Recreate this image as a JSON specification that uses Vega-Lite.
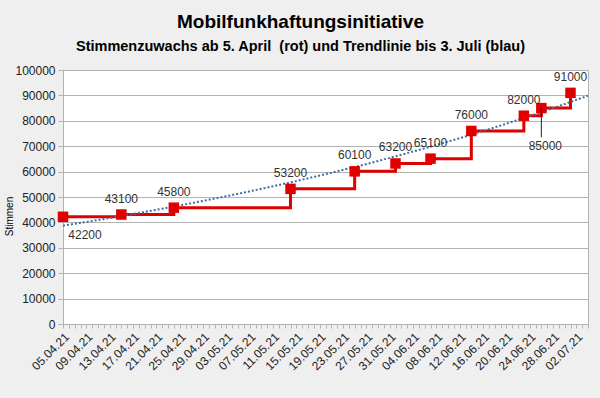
{
  "$schema": "https://vega.github.io/schema/vega-lite/v6.json",
  "width": 525,
  "height": 254,
  "autosize": "none",
  "padding": {"left": 63, "top": 70, "right": 12, "bottom": 74},
  "background": "#efefef",
  "title": {
    "text": "Mobilfunkhaftungsinitiative",
    "subtitle": "Stimmenzuwachs ab 5. April\u00a0 (rot) und Trendlinie bis 3. Juli (blau)",
    "anchor": "middle",
    "dx": -25,
    "offset": 11,
    "font": "Liberation Sans",
    "fontSize": 19,
    "fontWeight": "bold",
    "color": "#000000",
    "subtitleFont": "Liberation Sans",
    "subtitleFontSize": 14.5,
    "subtitleFontWeight": "bold",
    "subtitleColor": "#000000",
    "subtitlePadding": 8
  },
  "config": {
    "view": {"fill": "#ffffff", "stroke": "#b3b3b3"},
    "font": "Liberation Sans"
  },
  "data": {
    "values": [
      {"datum": "2021-04-05", "stimmen": 42200},
      {"datum": "2021-04-15", "stimmen": 43100},
      {"datum": "2021-04-24", "stimmen": 45800},
      {"datum": "2021-05-14", "stimmen": 53200},
      {"datum": "2021-05-25", "stimmen": 60100},
      {"datum": "2021-06-01", "stimmen": 63200},
      {"datum": "2021-06-07", "stimmen": 65100},
      {"datum": "2021-06-14", "stimmen": 76000},
      {"datum": "2021-06-23", "stimmen": 82000},
      {"datum": "2021-06-26", "stimmen": 85000},
      {"datum": "2021-07-01", "stimmen": 91000}
    ],
    "format": {"parse": {"datum": "date"}}
  },
  "encoding": {
    "x": {
      "field": "datum",
      "type": "temporal",
      "scale": {
        "type": "utc",
        "domain": [
          {"year": 2021, "month": 4, "date": 5, "utc": true},
          {"year": 2021, "month": 7, "date": 4, "utc": true}
        ]
      },
      "axis": {
        "title": null,
        "tickCount": {"interval": "day", "step": 1},
        "labelExpr": "(round((datum.value - 1617580800000)/86400000) % 4 == 0) ? utcFormat(datum.value, '%d.%m.%y') : ''",
        "labelOverlap": false,
        "labelBound": false,
        "labelFlush": false,
        "labelAngle": -45,
        "labelAlign": "right",
        "labelBaseline": "top",
        "labelPadding": 3,
        "labelFont": "Liberation Sans",
        "labelFontSize": 12,
        "labelColor": "#222222",
        "tickColor": "#b3b3b3",
        "tickSize": 4,
        "domainColor": "#b3b3b3",
        "grid": false
      }
    },
    "y": {
      "field": "stimmen",
      "type": "quantitative",
      "scale": {"domain": [0, 100000], "nice": false, "zero": true},
      "axis": {
        "title": "Stimmen",
        "titleFont": "Liberation Sans",
        "titleFontSize": 10,
        "titleFontWeight": "normal",
        "titleColor": "#000000",
        "titleAngle": -90,
        "titleAlign": "center",
        "titleBaseline": "bottom",
        "titleX": -49,
        "titleY": 146,
        "values": [0, 10000, 20000, 30000, 40000, 50000, 60000, 70000, 80000, 90000, 100000],
        "format": "d",
        "labelFont": "Liberation Sans",
        "labelFontSize": 12,
        "labelColor": "#222222",
        "labelPadding": 3,
        "tickColor": "#b3b3b3",
        "tickSize": 5,
        "domainColor": "#b3b3b3",
        "gridColor": "#b3b3b3",
        "gridWidth": 1
      }
    }
  },
  "layer": [
    {
      "mark": {"type": "line", "interpolate": "step-after", "color": "#e00000", "strokeWidth": 3}
    },
    {
      "transform": [
        {"regression": "stimmen", "on": "datum", "method": "exp", "extent": [1617580800000, 1625356800000]}
      ],
      "mark": {"type": "line", "color": "#3c6ea8", "strokeWidth": 2, "strokeDash": [2, 2], "clip": true}
    },
    {
      "mark": {"type": "point", "shape": "square", "filled": true, "size": 110, "color": "#e00000", "opacity": 1}
    },
    {
      "transform": [{"filter": "datum.stimmen == 85000"}],
      "mark": {"type": "rule", "color": "#222222", "strokeWidth": 1},
      "encoding": {"y2": {"datum": 73500}}
    },
    {
      "transform": [{"filter": "datum.stimmen != 42200 && datum.stimmen != 85000"}],
      "mark": {"type": "text", "dy": -16, "font": "Liberation Sans", "fontSize": 12, "color": "#333333"},
      "encoding": {"text": {"field": "stimmen", "type": "quantitative", "format": "d"}}
    },
    {
      "transform": [{"filter": "datum.stimmen == 42200"}],
      "mark": {"type": "text", "dx": 22, "dy": 18, "font": "Liberation Sans", "fontSize": 12, "color": "#333333"},
      "encoding": {"text": {"field": "stimmen", "type": "quantitative", "format": "d"}}
    },
    {
      "transform": [{"filter": "datum.stimmen == 85000"}],
      "mark": {"type": "text", "dx": 4, "dy": 38, "font": "Liberation Sans", "fontSize": 12, "color": "#333333"},
      "encoding": {"text": {"field": "stimmen", "type": "quantitative", "format": "d"}}
    }
  ]
}
